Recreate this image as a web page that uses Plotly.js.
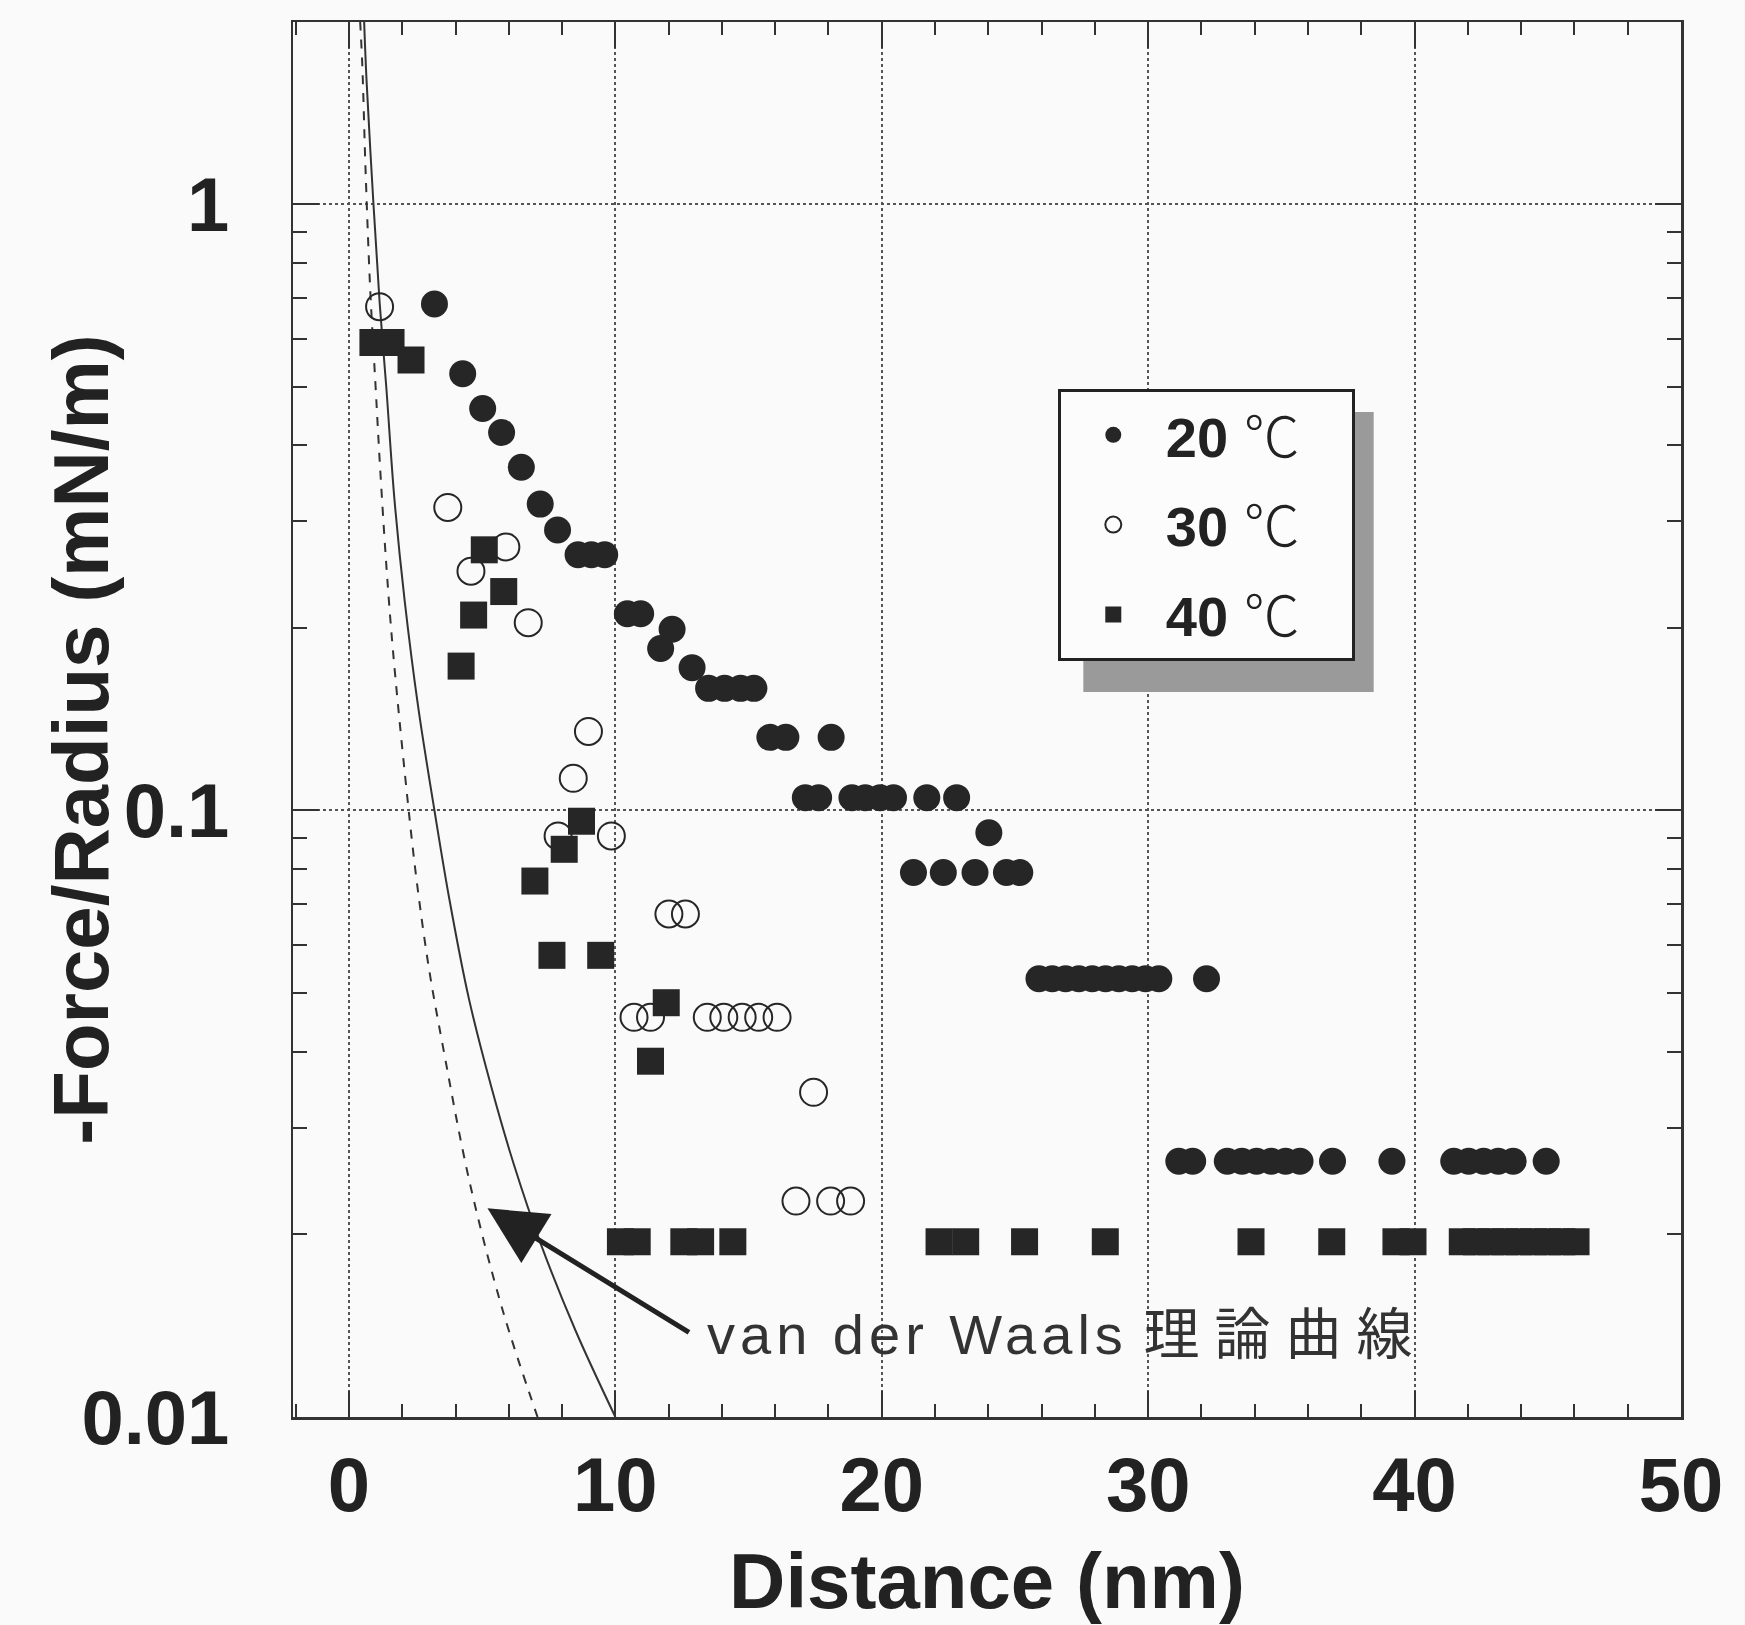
<!DOCTYPE html>
<html>
<head>
<meta charset="utf-8">
<script src="https://cdn.plot.ly/plotly-3.0.1.min.js"></script>
<style>html,body{margin:0;padding:0;background:#fafafa;}</style>
</head>
<body>
<div id="chart" style="width:1745px;height:1625px;"></div>
<script>
// ---- data ----
const x20 = [3.21, 4.27, 5.02, 5.73, 6.47, 7.18, 7.83, 8.6, 9.1, 9.6, 10.45, 10.95, 11.7, 12.13, 12.88,
  13.5, 14.1, 14.7, 15.2, 15.8, 16.4, 18.1,
  17.13, 17.63, 18.88, 19.38, 19.94, 20.44, 21.69, 22.81, 24.02,
  21.19, 22.31, 23.5, 24.68, 25.18,
  25.9, 26.4, 26.9, 27.4, 27.9, 28.4, 28.9, 29.4, 29.9, 30.4, 32.19,
  31.15, 31.67, 32.97, 33.52, 34.07, 34.62, 35.16, 35.7, 36.92, 39.15, 41.47, 42.03, 42.59, 43.14, 43.7, 44.94];
const y20 = [0.684, 0.525, 0.46, 0.42, 0.368, 0.32, 0.29, 0.264, 0.264, 0.264, 0.211, 0.211, 0.185, 0.199, 0.172,
  0.159, 0.159, 0.159, 0.159, 0.132, 0.132, 0.132,
  0.105, 0.105, 0.105, 0.105, 0.105, 0.105, 0.105, 0.105, 0.0919,
  0.079, 0.079, 0.079, 0.079, 0.079,
  0.0528, 0.0528, 0.0528, 0.0528, 0.0528, 0.0528, 0.0528, 0.0528, 0.0528, 0.0528, 0.0528,
  0.0264, 0.0264, 0.0264, 0.0264, 0.0264, 0.0264, 0.0264, 0.0264, 0.0264, 0.0264, 0.0264, 0.0264, 0.0264, 0.0264, 0.0264, 0.0264];

const x30 = [1.15, 3.71, 4.58, 5.89, 6.73, 7.85, 8.42, 8.99, 9.85, 10.7, 11.32, 12.01, 12.63,
  13.45, 14.07, 14.76, 15.38, 16.07, 17.44, 16.78, 18.08, 18.83];
const y30 = [0.677, 0.316, 0.248, 0.272, 0.204, 0.0908, 0.113, 0.135, 0.0908, 0.0456, 0.0456, 0.0675, 0.0675,
  0.0456, 0.0456, 0.0456, 0.0456, 0.0456, 0.0343, 0.0227, 0.0227, 0.0227];

const x40 = [0.9, 1.58, 2.33, 4.21, 4.68, 5.08, 5.81, 6.98, 7.62, 8.08, 8.73, 9.45,
  10.19, 10.82, 11.32, 11.91, 12.57, 13.2, 14.41,
  22.15, 23.15, 25.36, 28.39, 33.86, 36.89, 39.3, 39.94,
  41.79, 42.32, 42.86, 43.39, 43.92, 44.46, 44.99, 45.53, 46.06];
const y40 = [0.591, 0.591, 0.553, 0.173, 0.210, 0.269, 0.2296, 0.0765, 0.0577, 0.0863, 0.096, 0.0577,
  0.01945, 0.01945, 0.0386, 0.0482, 0.01945, 0.01945, 0.01945,
  0.01945, 0.01945, 0.01945, 0.01945, 0.01945, 0.01945, 0.01945, 0.01945,
  0.01945, 0.01945, 0.01945, 0.01945, 0.01945, 0.01945, 0.01945, 0.01945, 0.01945];

// van der Waals theoretical curves
const xVdwSolid = [0.57, 0.66, 0.92, 1.15, 1.4, 1.71, 2.09, 2.6, 3.21, 3.77, 4.5, 5.33, 6.2, 7.2, 8.5, 10.0];
const yVdwSolid = [2.0, 1.6, 1.0, 0.69, 0.5, 0.325, 0.222, 0.148, 0.1, 0.0714, 0.049, 0.0352, 0.026, 0.0193, 0.0139, 0.01];
const xVdwDash = [0.42, 0.5, 0.62, 0.8, 1.0, 1.15, 1.4, 1.65, 2.09, 2.52, 3.0, 3.52, 4.52, 5.77, 7.08];
const yVdwDash = [2.0, 1.7, 1.15, 0.72, 0.5, 0.38, 0.255, 0.184, 0.116, 0.078, 0.055, 0.041, 0.0245, 0.015, 0.01];

const seriesNames = ['20', '30', '40'];
const xTickVals = [0, 10, 20, 30, 40, 50];
const annLatin = 'van der Waals';
const annCJK = '理論曲線';
const xTitle = 'Distance (nm)';
const yTitle = '-Force/Radius (mN/m)';

const ink = '#262626';
const FONT = 'Liberation Sans, Arial, Helvetica, sans-serif';
const CJK = 'Liberation Sans, Arial, Noto Sans CJK JP, sans-serif';
const NB = '\u00a0';
const degC = n => '<b>' + n + '</b> <span style="font-family:Noto Sans CJK JP;font-weight:300">℃</span>' + NB + NB + NB;

const traces = [
  {x: xVdwSolid, y: yVdwSolid, mode: 'lines', line: {color: '#333', width: 2, shape: 'spline'}, showlegend: false, hoverinfo: 'skip'},
  {x: xVdwDash, y: yVdwDash, mode: 'lines', line: {color: '#333', width: 2, dash: '9px,9px', shape: 'spline'}, showlegend: false, hoverinfo: 'skip'},
  {x: x20, y: y20, mode: 'markers', name: degC(seriesNames[0]), legendgroup: 'a',
   marker: {symbol: 'circle', size: 27, color: ink, line: {width: 0}}},
  {x: x30, y: y30, mode: 'markers', name: degC(seriesNames[1]), legendgroup: 'b',
   marker: {symbol: 'circle-open', size: 27, color: ink, line: {width: 2, color: ink}}},
  {x: x40, y: y40, mode: 'markers', name: degC(seriesNames[2]), legendgroup: 'c',
   marker: {symbol: 'square', size: 27, color: ink, line: {width: 0}}}
];

const axisCommon = {
  showline: true, linewidth: 2.5, linecolor: '#333', mirror: 'ticks',
  ticks: 'inside', tickwidth: 2, tickcolor: '#333', ticklen: 26,
  showgrid: true, gridcolor: '#555', griddash: 'dot', gridwidth: 2, zeroline: false,
  tickfont: {family: FONT, size: 76, color: '#222', weight: 'bold'}
};

const layout = {
  width: 1745, height: 1625,
  margin: {l: 293, r: 64, t: 22, b: 208},
  paper_bgcolor: '#fafafa', plot_bgcolor: '#fafafa',
  showlegend: true,
  xaxis: Object.assign({}, axisCommon, {
    range: [-2.1, 50], tickmode: 'array', tickvals: xTickVals,
    ticklabelstandoff: 0,
    minor: {dtick: 2, tick0: 0, ticks: 'inside', ticklen: 13, tickwidth: 2, tickcolor: '#333', showgrid: false},
    title: {text: xTitle, font: {family: FONT, size: 78, color: '#222', weight: 'bold'}, standoff: 32}
  }),
  yaxis: Object.assign({}, axisCommon, {
    type: 'log', range: [-2, 0.3], dtick: 1, tick0: 0,
    ticklabelstandoff: 46,
    minor: {dtick: 'D1', ticks: 'inside', ticklen: 14, tickwidth: 2, tickcolor: '#333', showgrid: false}
  }),
  legend: {
    x: 0.551, y: 0.737, xanchor: 'left', yanchor: 'top',
    bgcolor: '#fcfcfc', bordercolor: '#222', borderwidth: 3,
    font: {family: FONT, size: 56, color: '#222'},
    tracegroupgap: 14, itemwidth: 95
  },
  shapes: [
    {type: 'rect', xref: 'paper', yref: 'paper', x0: 0.5694, x1: 0.7786, y0: 0.5197, y1: 0.7204,
     fillcolor: '#9a9a9a', line: {width: 0}, layer: 'above'}
  ],
  annotations: [
    {xref: 'paper', yref: 'paper', x: -0.153, y: 0.4853, xanchor: 'center', yanchor: 'middle',
     text: '<b>' + yTitle + '</b>', textangle: -90, showarrow: false,
     font: {family: FONT, size: 78, color: '#222'}},
    {xref: 'x', yref: 'y', x: 13.37, y: -1.8635, xanchor: 'left', yanchor: 'middle',
     text: '<span style="letter-spacing:5px">' + annLatin + '</span> <span style="letter-spacing:15px">' + annCJK + '</span>',
     showarrow: false, font: {family: CJK, size: 56, color: '#333'}},
    {xref: 'x', yref: 'y', x: 5.2, y: -1.656, ax: 203, ay: 125, text: '', showarrow: true,
     arrowhead: 2, arrowwidth: 5, arrowsize: 2.3, arrowcolor: '#222', standoff: 0}
  ]
};

Plotly.newPlot('chart', traces, layout, {staticPlot: true});
</script>
</body>
</html>
